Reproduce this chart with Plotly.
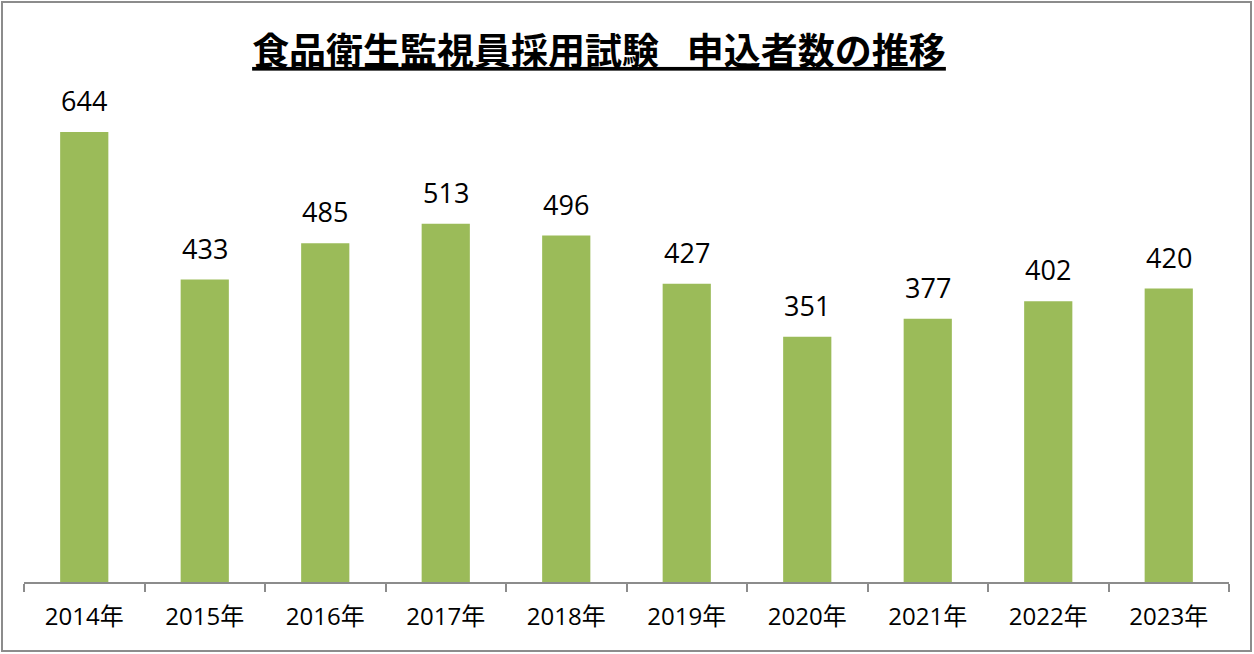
import plotly.graph_objects as go

years = ["2014年", "2015年", "2016年", "2017年", "2018年", "2019年", "2020年", "2021年", "2022年", "2023年"]
applicants = [644, 433, 485, 513, 496, 427, 351, 377, 402, 420]
title_text = "食品衛生監視員採用試験\u2002\u2005申込者数の推移"

W, H = 1254, 654
ML, MR, MT, MB = 24, 25, 93, 72
pw = W - ML - MR
ph = H - MT - MB

fig = go.Figure()
fig.add_trace(go.Bar(
    x=years, y=applicants,
    marker=dict(color="#9BBB59", line=dict(width=0)),
    hoverinfo="x+y",
))

for yr, v in zip(years, applicants):
    fig.add_annotation(
        x=yr, y=v, text=str(v), showarrow=False,
        yanchor="bottom", yshift=11,
        font=dict(family="Open Sans, Noto Sans CJK JP, sans-serif", size=27, color="#000000"),
    )

# outer border
fig.add_shape(
    type="rect", xref="paper", yref="paper",
    x0=(2 - ML) / pw, x1=(W - 3 - ML) / pw,
    y0=(H - MB - (H - 3)) / ph, y1=(H - MB - 2) / ph,
    line=dict(color="#8C8C8C", width=2), fillcolor="rgba(0,0,0,0)", layer="below",
)

fig.update_layout(
    width=W, height=H,
    margin=dict(l=ML, r=MR, t=MT, b=MB),
    paper_bgcolor="white", plot_bgcolor="white",
    bargap=0.6,
    showlegend=False,
    title=dict(
        text="<b><u>" + title_text + "</u></b>",
        x=599 / W, xanchor="center", xref="container",
        y=1 - 52 / H, yanchor="middle", yref="container",
        font=dict(family="Noto Sans CJK JP, sans-serif", size=37, color="#000000"),
    ),
    xaxis=dict(
        showline=True, linecolor="#8C8C8C", linewidth=1.5,
        ticks="outside", tickson="boundaries", ticklen=8, tickcolor="#8C8C8C", tickwidth=1.5,
        tickfont=dict(family="Open Sans, Noto Sans CJK JP, sans-serif", size=24, color="#000000"),
        ticklabelstandoff=12,
        showgrid=False, fixedrange=True,
    ),
    yaxis=dict(
        range=[0, 700], visible=False, showgrid=False, zeroline=False, fixedrange=True,
    ),
)

fig.write_html("out.html")
